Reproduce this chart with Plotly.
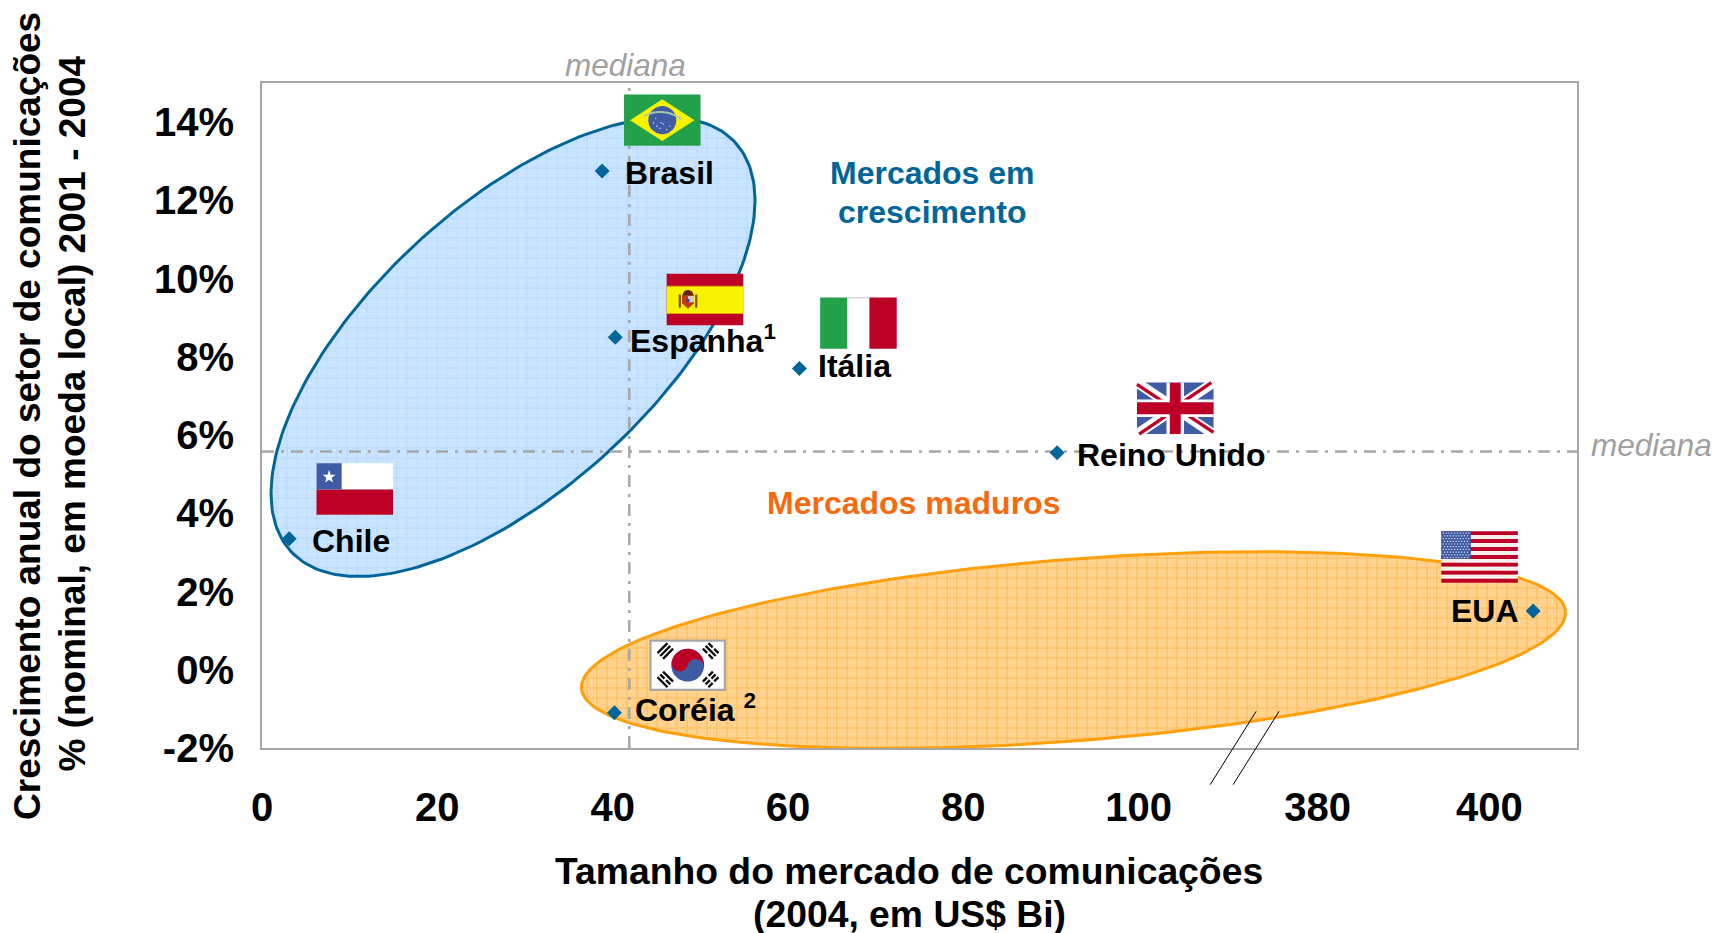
import numpy as np
import plotly.graph_objects as go

# ---------- data ----------
paises = ["Brasil", "Espanha", "Itália", "Reino Unido", "Chile", "Coréia", "EUA"]
mercado = [38.8, 40.3, 61.3, 90.7, 3.1, 40.2, 405.0]
crescimento = [12.75, 8.5, 7.7, 5.55, 3.35, -1.1, 1.5]
mediana_x = 41.9
mediana_y = 5.58
x_ticks_reais = [0, 20, 40, 60, 80, 100, 380, 400]
x_ticks_posicao = [0, 20, 40, 60, 80, 100, 120.4, 140]
y_ticks = [-2, 0, 2, 4, 6, 8, 10, 12, 14]

# ---------- scale helpers ----------
W, H = 1716, 933
L, R, T, B = 261.5, 1577.5, 83, 748
X_MAX = 150.0
Y_MIN, Y_MAX = -2.0, 15.0
PX_X = (R - L) / X_MAX
PX_Y = (B - T) / (Y_MAX - Y_MIN)
QUEBRA = 260  # axis is broken: values beyond 100 are moved left by this amount


def eixo(v):
    return v - QUEBRA if v > 200 else v


def xpx(px):
    return (px - L) / PX_X


def ypx(px):
    return (B - px) / PX_Y + Y_MIN


S = 1716 / 1568  # reference pixels per shrunk-view pixel


def elipse(cx, cy, a, b, graus):
    t = np.linspace(0, 2 * np.pi, 241)
    th = np.radians(graus)
    ex = a * np.cos(t) * np.cos(th) + b * np.sin(t) * np.sin(th)
    ey = -a * np.cos(t) * np.sin(th) + b * np.sin(t) * np.cos(th)
    return xpx((cx + ex) * S), ypx((cy + ey) * S)


# ---------- flags: vector pieces in a 70 x 47 box ----------
AZ, VM, VD, AM = "#3F5BA6", "#BD0026", "#23A04A", "#F7F300"


def ret(x, y, w, h, cor):
    return ([(x, y), (x + w, y), (x + w, y + h), (x, y + h)], cor)


def disco(cx, cy, r, cor, n=36):
    t = np.linspace(0, 2 * np.pi, n, endpoint=False)
    return (list(zip(cx + r * np.cos(t), cy + r * np.sin(t))), cor)


def traco(x0, y0, x1, y1, larg, cor):
    d = np.array([x1 - x0, y1 - y0], float)
    n = np.array([-d[1], d[0]]) / np.hypot(*d) * larg / 2
    return ([(x0 + n[0], y0 + n[1]), (x1 + n[0], y1 + n[1]), (x1 - n[0], y1 - n[1]), (x0 - n[0], y0 - n[1])], cor)


def arco(cx, cy, r, a0, a1, n=24):
    t = np.radians(np.linspace(a0, a1, n))
    return list(zip(cx + r * np.cos(t), cy + r * np.sin(t)))


def brasil():
    p = [ret(0, 0, 70, 47, VD),
         ([(5.5, 23.5), (35, 4.5), (64.5, 23.5), (35, 42.5)], AM),
         disco(35, 23.5, 12.8, AZ)]
    curva = arco(30, 48, 31, -118, -52, 14)
    for a, b in zip(curva[:-1], curva[1:]):
        p.append(traco(a[0] + 3, a[1] - 1, b[0] + 3, b[1] - 1, 1.8, "#A9CFA0"))
    for x, y in [(27, 26), (30, 29), (33, 31), (36, 27), (39, 32), (42, 29), (34, 26), (29, 22)]:
        p.append(disco(x, y, .7, "#C8D0E8", 8))
    return p


def espanha():
    return [ret(0, 0, 70, 47, VM), ret(0, 11.2, 70, 25.5, AM),
            ret(0, 11, 70, .8, "#E88A10"), ret(0, 36, 70, .8, "#E88A10"),
            ret(11, 19, 2, 12, "#8A4A20"), ret(26, 19, 2, 12, "#8A4A20"),
            ([(14, 20), (25, 20), (25, 27), (19.5, 32), (14, 27)], "#C23A10"),
            ret(19.5, 20, 5.5, 6, "#D8C8C8"),
            ([(14, 20), (16, 16), (19.5, 14.5), (23, 16), (25, 20)], "#6A2010"),
            disco(19.5, 24.5, 1.6, "#3040A0", 12)]


def italia():
    return [ret(0, 0, 25, 47, VD), ret(25, 0, 20, 47, "#FFFFFF"), ret(45, 0, 25, 47, VM),
            ret(25, 0, 20, .8, "#BBBBBB")]


def uk():
    return [ret(0, 0, 70, 47, AZ),
            traco(0, 0, 70, 47, 9, "#FFFFFF"), traco(70, 0, 0, 47, 9, "#FFFFFF"),
            traco(0, 1.5, 33, 23.5, 3, VM), traco(68, 0, 37, 21, 3, VM),
            traco(70, 45.5, 37, 23.5, 3, VM), traco(2, 47, 33, 26, 3, VM),
            ret(27, 0, 16, 47, "#FFFFFF"), ret(0, 15.5, 70, 16, "#FFFFFF"),
            ret(30, 0, 10, 47, VM), ret(0, 18, 70, 11, VM)]


def chile():
    est = [(11.5 + (6.2 if i % 2 == 0 else 2.5) * np.sin(i * np.pi / 5),
            12.5 - (6.2 if i % 2 == 0 else 2.5) * np.cos(i * np.pi / 5)) for i in range(10)]
    return [ret(0, 0, 70, 24, "#FFFFFF"), ret(0, 24, 70, 23, VM), ret(0, 0, 23, 24, AZ), (est, "#FFFFFF")]


def barras(cx, cy, ang, padrao):
    a = np.radians(ang)
    pecas = []
    for i, quebrada in enumerate(padrao):
        y = -3.6 + i * 3.6
        trechos = [(-6.5, -1), (1, 6.5)] if quebrada else [(-6.5, 6.5)]
        for u0, u1 in trechos:
            pts = [(u0, y), (u1, y)]
            rot = [(cx + u * np.cos(a) - v * np.sin(a), cy + u * np.sin(a) + v * np.cos(a)) for u, v in pts]
            pecas.append(traco(*rot[0], *rot[1], 2.2, "#111111"))
    return pecas


def coreia():
    cx, cy, r, giro = 35, 23.5, 15, 15
    p = [ret(0, 0, 70, 47, "#A6A6A6"), ret(2, 2, 66, 43, "#FFFFFF"), disco(cx, cy, r, AZ, 48)]
    mx, my = r / 2 * np.cos(np.radians(giro)), r / 2 * np.sin(np.radians(giro))
    cima = arco(cx, cy, r, giro + 180, giro + 360, 30)
    s1 = arco(cx + mx, cy + my, r / 2, giro, giro - 180, 16)
    s2 = arco(cx - mx, cy - my, r / 2, giro, giro + 180, 16)
    p.append((cima + s1 + s2[1:], VM))
    p += barras(14.5, 10.5, -45, [0, 0, 0]) + barras(56, 10.5, 45, [1, 0, 1])
    p += barras(14.5, 36.5, 45, [0, 1, 0]) + barras(56, 36.5, -45, [1, 1, 1])
    return p


def eua():
    p = [ret(0, i * 47 / 13, 70, 47 / 13, VM if i % 2 == 0 else "#F4F0F0") for i in range(13)]
    p.append(ret(0, 0, 27, 25.3, AZ))
    for l in range(10):
        for c in range(10 - (l % 2)):
            p.append(disco(1.8 + c * 2.6 + (l % 2) * 1.3, 1.7 + l * 2.5, .65, "#E8ECF8", 6))
    return p


bandeiras = [brasil(), espanha(), italia(), uk(), chile(), coreia(), eua()]
# flag top-left corner, in shrunk-view pixels relative to the country's marker
desloc_bandeira = [(20, -70), (47, -58), (19, -65), (73, -64), (25, -69), (32, -67), (-84, -73)]

# ---------- country labels ----------
rotulos = ["Brasil", "Espanha<sup>1</sup>", "Itália", "Reino Unido", "Chile", "Coréia <sup>2</sup>", "EUA"]
desloc_rotulo = [(19, 2), (12, 2), (15.5, -2), (16, 2), (19, 2), (17, -4), (-77, 0)]

px_pts = [eixo(v) for v in mercado]

fig = go.Figure()

# ellipses: a flat tint with a fine dot texture, then the 10 px line grid
for (ex, ey), cor, bg, fino, grade in [
    (elipse(468.5, 317, 276, 129.5, 42.6), "#006699", "#CBE5FF", "#BCDCFF", "#A6CFFF"),
    (elipse(981, 594, 451.3, 83, 4.47), "#FF9F0A", "#FFD494", "#FFC878", "#FFA51A"),
]:
    fig.add_trace(go.Scatter(x=ex, y=ey, mode="lines", fill="toself", line=dict(width=0),
                             fillpattern=dict(shape=".", bgcolor=bg, fgcolor=fino, size=3, solidity=0.35),
                             hoverinfo="skip", showlegend=False))
    fig.add_trace(go.Scatter(x=ex, y=ey, mode="lines", fill="toself", line=dict(color=cor, width=3),
                             fillcolor="rgba(0,0,0,0)",
                             fillpattern=dict(shape="+", bgcolor="rgba(0,0,0,0)", fgcolor=grade, size=10, solidity=0.2),
                             hoverinfo="skip", showlegend=False))

# median lines
med = dict(color="#A6A6A6", width=2.5, dash="12px,7px,3px,7px")
fig.add_trace(go.Scatter(x=[mediana_x, mediana_x], y=[Y_MIN, Y_MAX], mode="lines", line=med,
                         hoverinfo="skip", showlegend=False))
fig.add_trace(go.Scatter(x=[0, X_MAX], y=[mediana_y, mediana_y], mode="lines", line=med,
                         hoverinfo="skip", showlegend=False))

# countries
fig.add_trace(go.Scatter(x=px_pts, y=crescimento, mode="markers", text=paises, hoverinfo="text",
                         marker=dict(symbol="diamond", size=11.5, color="#00659B"), showlegend=False))

ann = []
FONTE = "Liberation Sans, Arial, sans-serif"
for xv, yv, rot, (dx, dy) in zip(px_pts, crescimento, rotulos, desloc_rotulo):
    ann.append(dict(x=xv, y=yv, xref="x", yref="y", text=f"<b>{rot}</b>", showarrow=False,
                    xanchor="left", yanchor="middle", xshift=dx * S, yshift=-dy * S,
                    font=dict(family=FONTE, size=32, color="#000000")))

for txt, xs, ys, cor in [("Mercados em", 852, 158, "#006699"), ("crescimento", 852, 194, "#006699"),
                         ("Mercados maduros", 834.5, 460, "#F56A0F")]:
    ann.append(dict(x=xpx(xs * S), y=ypx(ys * S), xref="x", yref="y", text=f"<b>{txt}</b>", showarrow=False,
                    xanchor="center", yanchor="middle", font=dict(family=FONTE, size=32, color=cor)))


# paper coordinates relative to the plot area
def xp(px):
    return (px - L) / (R - L)


def yp(px):
    return (B - px) / (B - T)


for xs, ys in [(571.5, 59), (1510, 407)]:
    ann.append(dict(x=xp(xs * S), y=yp(ys * S), xref="paper", yref="paper", text="<i>mediana</i>",
                    showarrow=False, xanchor="center", yanchor="middle",
                    font=dict(family=FONTE, size=31.5, color="#A0A0A0")))

TIT = dict(family=FONTE, size=37.3, color="#000000")
TIT_Y = dict(family=FONTE, size=37, color="#000000")
ann.append(dict(x=xp(831 * S), y=yp(796 * S), xref="paper", yref="paper",
                text="<b>Tamanho do mercado de comunicações</b>", showarrow=False, xanchor="center", yanchor="middle",
                font=TIT))
ann.append(dict(x=xp(831 * S), y=yp(835 * S), xref="paper", yref="paper",
                text="<b>(2004, em US$ Bi)</b>", showarrow=False, xanchor="center", yanchor="middle",
                font=TIT))
ann.append(dict(x=xp(25 * S), y=yp(380 * S), xref="paper", yref="paper",
                text="<b>Crescimento anual do setor de comunicações</b>", showarrow=False, textangle=-90,
                xanchor="center", yanchor="middle", font=TIT_Y))
ann.append(dict(x=xp(66 * S), y=yp(378 * S), xref="paper", yref="paper",
                text="<b>% (nominal, em moeda local) 2001 - 2004</b>", showarrow=False, textangle=-90,
                xanchor="center", yanchor="middle", font=TIT_Y))

# flags are vector shapes placed relative to each country's marker
formas = []
for xv, yv, pecas, (dx, dy) in zip(px_pts, crescimento, bandeiras, desloc_bandeira):
    ox, oy = xv + dx * S / PX_X, yv - dy * S / PX_Y
    for pts, cor in pecas:
        d = "M " + " L ".join(f"{ox + u * S / PX_X:.4f},{oy - v * S / PX_Y:.4f}" for u, v in pts) + " Z"
        formas.append(dict(type="path", xref="x", yref="y", path=d, fillcolor=cor, line=dict(width=0), layer="above"))

# axis-break marks
formas += [dict(type="line", xref="paper", yref="paper", x0=xp(x0 * S), y0=yp(717 * S), x1=xp(x1 * S), y1=yp(650 * S),
                line=dict(color="#000000", width=1)) for x0, x1 in [(1106, 1148), (1127, 1169)]]

fig.update_layout(
    width=W, height=H, autosize=False, showlegend=False,
    paper_bgcolor="#FFFFFF", plot_bgcolor="#FFFFFF",
    margin=dict(l=L, r=W - R, t=T, b=H - B, pad=0),
    annotations=ann, shapes=formas,
    xaxis=dict(range=[0, X_MAX], tickvals=x_ticks_posicao, ticktext=[str(v) for v in x_ticks_reais],
               showgrid=False, zeroline=False, showline=True, mirror=True, linecolor="#A6A6A6", linewidth=2,
               ticks="outside", ticklen=23, tickcolor="rgba(0,0,0,0)",
               tickfont=dict(family=FONTE, size=40, color="#000000", weight="bold")),
    yaxis=dict(range=[Y_MIN, Y_MAX], tickvals=y_ticks, ticktext=[f"{v}%" for v in y_ticks],
               showgrid=False, zeroline=False, showline=True, mirror=True, linecolor="#A6A6A6", linewidth=2,
               ticks="outside", ticklen=18, tickcolor="rgba(0,0,0,0)",
               tickfont=dict(family=FONTE, size=40, color="#000000", weight="bold")),
)

fig.write_html("out.html", post_script="document.body.style.margin='0';",
               config=dict(displayModeBar=False))
